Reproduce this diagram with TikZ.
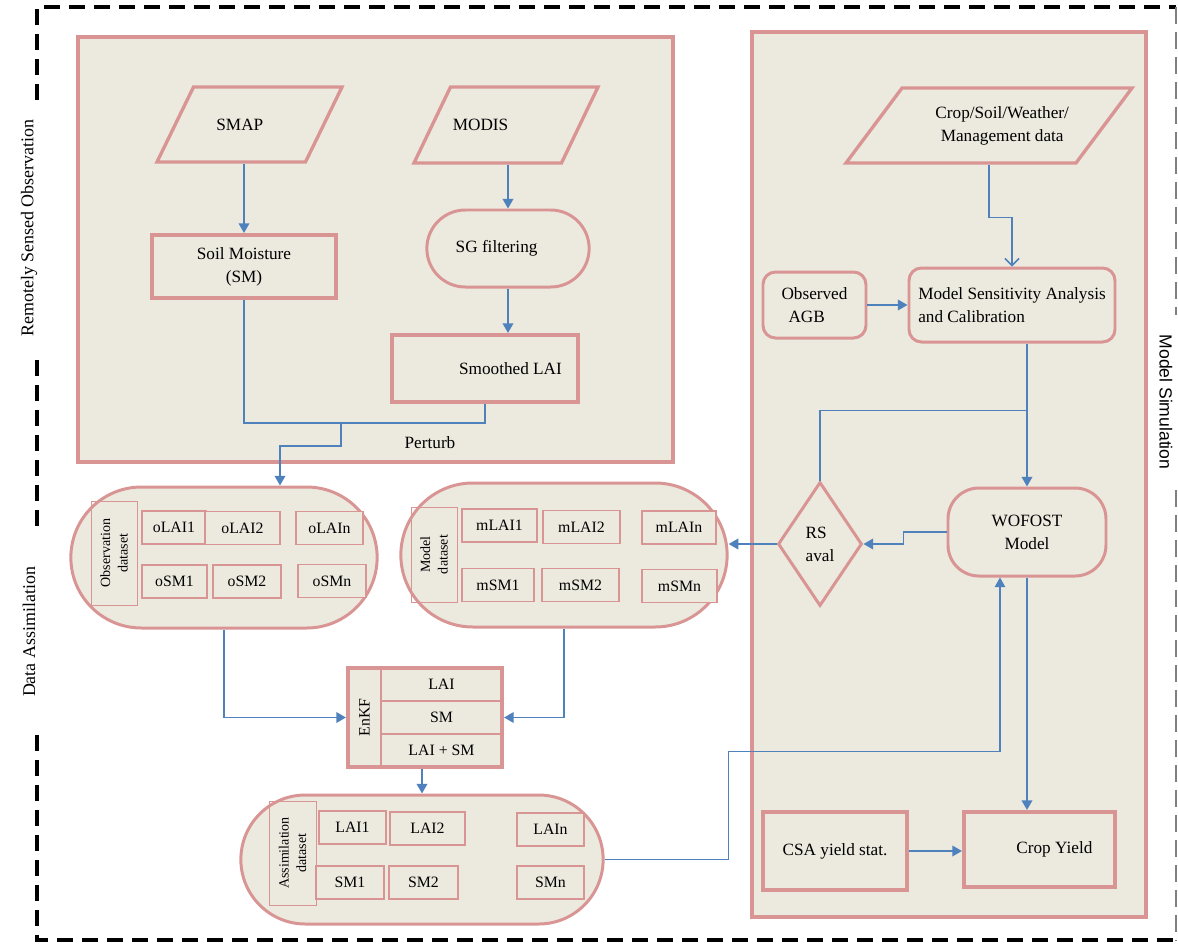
\documentclass[tikz,border=0pt]{standalone}
\usepackage{fontspec}
\setmainfont{Liberation Serif}
\setsansfont{Liberation Sans}
\usetikzlibrary{shapes.geometric,shapes.misc,arrows.meta,calc}
\definecolor{rose}{RGB}{217,149,148}
\definecolor{paper}{RGB}{236,233,223}
\definecolor{flow}{RGB}{79,129,189}
\tikzset{
  wh/.style 2 args={minimum width=#1*0.02cm, minimum height=#2*0.02cm},
  frame/.style={line width=2.3pt, dash pattern=on 0.32cm off 0.18cm},
  panel/.style={draw=rose, line width=2.3pt, fill=paper},
  para/.style={trapezium, trapezium stretches body, draw=rose, line width=1.9pt, fill=paper, inner xsep=0pt},
  boxa/.style={draw=rose, line width=2.3pt, fill=paper},
  pill/.style={rounded rectangle, draw=rose, line width=1.7pt, fill=paper},
  rbox/.style={draw=rose, line width=1.7pt, fill=paper, rounded corners=0.25cm},
  item/.style={draw=rose, line width=1.1pt, fill=paper, font=\fontsize{9}{11}\selectfont},
  row/.style={draw=rose, line width=1.2pt, fill=paper, font=\fontsize{9}{11}\selectfont},
  dslab/.style={draw=rose, line width=0.5pt, rotate=90, align=center, font=\fontsize{8}{10}\selectfont},
  arr/.style={->, draw=flow, line width=1.1pt},
  link/.style={draw=flow, line width=0.7pt}
}
\begin{document}
\begin{tikzpicture}[x=0.02cm, y=-0.02cm, >={Triangle[length=5.5pt,width=6pt]},
  font=\fontsize{9.8}{13.2}\selectfont]
\useasboundingbox (0,0) rectangle (1178,944);

\draw[frame] (37,100) -- (37,7) -- (1176,7);
\draw[frame] (37,360) -- (37,530);
\draw[frame] (37,735) -- (37,940) -- (1176,940);
\draw[gray, line width=0.6pt, dash pattern=on 0.34cm off 0.16cm] (1176,7) -- (1176,315);
\draw[gray, line width=0.6pt, dash pattern=on 0.34cm off 0.16cm] (1176,490) -- (1176,940);
\node[rotate=90, font=\fontsize{10.2}{12}\selectfont] (rslab) at (29,228) {Remotely Sensed Observation};
\node[rotate=90, font=\fontsize{10.2}{12}\selectfont] (dalab) at (29,632) {Data Assimilation};
\node[rotate=-90, font=\sffamily\fontsize{10}{12}\selectfont] (mslab) at (1166,402) {Model Simulation};

\draw[panel] (78,37) rectangle (673,462);
\draw[panel] (752,32) rectangle (1146,917);

\node[para, trapezium left angle=64, trapezium right angle=116, text height=6.6pt, text depth=0pt, inner ysep=18pt, wh={185}{75}] (smap) at (249.5,124.5) {SMAP\hspace*{11pt}};
\node[para, trapezium left angle=64, trapezium right angle=116, text height=6.6pt, text depth=0pt, inner ysep=18pt, wh={184}{76}] (modis) at (506,125) {MODIS\hspace*{29pt}};
\node[para, trapezium left angle=53, trapezium right angle=127, inner ysep=10.1pt, wh={286}{75}, align=center] (crop) at (989,125.5) {\hspace*{15pt}Crop/Soil/Weather/\\\hspace*{15pt}Management data};
\node[boxa, wh={184}{63}, align=center] (sm) at (244,266.5) {Soil Moisture\\(SM)};
\node[pill, wh={174}{77}] (sg) at (508,248.5) {SG filtering\hspace*{13pt}};
\node[boxa, wh={186}{67}] (lai) at (485,368.5) {\hspace*{29pt}Smoothed LAI};
\node (perturb) at (430,443) {Perturb};

\node[pill, wh={318}{141}] (obs) at (224,557.5) {};
\node[dslab, wh={104}{46}] (obslab) at (114,553) {Observation\\dataset};
\foreach \n/\x/\y/\w/\t in {olai1/174/527.5/64/oLAI1, olai2/242.5/528/75/oLAI2, olain/329.5/528/67/oLAIn,
    osm1/174.5/581.5/65/oSM1, osm2/247/581.5/68/oSM2, osmn/332/581/68/oSMn}
  \node[item, wh={\w}{33}] (\n) at (\x,\y) {\t};

\node[pill, wh={338}{144}] (mod) at (564,555) {};
\node[dslab, wh={95}{46}] (modlab) at (434,554.5) {Model\\dataset};
\foreach \n/\x/\y/\w/\t in {mlai1/499.5/525.5/75/mLAI1, mlai2/581.5/527/77/mLAI2, mlain/679/527.5/74/mLAIn,
    msm1/498/585/72/mSM1, msm2/580.5/585/77/mSM2, msmn/679.5/586/75/mSMn}
  \node[item, wh={\w}{33}] (\n) at (\x,\y) {\t};

\node[pill, wh={374}{129}] (asm) at (422,859.5) {};
\node[dslab, wh={104}{47}] (asmlab) at (292.5,853) {Assimilation\\dataset};
\foreach \n/\x/\y/\w/\t in {alai1/352.5/827.5/67/LAI1, alai2/427.5/828.5/75/LAI2, alain/550.5/829.5/67/LAIn,
    asm1/350/882.5/68/SM1, asm2/423.5/882.5/69/SM2, asmn/550.5/882.5/67/SMn}
  \node[item, wh={\w}{33}] (\n) at (\x,\y) {\t};

\foreach \n/\y/\t in {rlai/684.5/LAI, rsm/717.5/SM, rboth/750.5/LAI + SM}
  \node[row, wh={121}{33}] (\n) at (441.5,\y) {\t};
\node[row, rotate=90, wh={99}{33}] (enkflab) at (364.5,717.5) {EnKF};
\node[draw=rose, line width=2.3pt, wh={154}{99}] (enkf) at (425,717.5) {};

\node[rbox, wh={103}{66}, align=left] (agb) at (814.5,305) {Observed\\\hspace*{4pt}AGB};
\node[rbox, wh={206}{74}, align=left] (msa) at (1012,305) {Model Sensitivity Analysis\\and Calibration};
\node[diamond, aspect=0.68, draw=rose, line width=1.7pt, fill=paper, inner sep=0pt, wh={84}{124}, align=left] (rs) at (820,544) {RS\\aval};
\node[draw=rose, line width=1.7pt, fill=paper, rounded corners=0.62cm, wh={158}{88}, align=center] (wofost) at (1027,532) {WOFOST\\Model};
\node[boxa, wh={144}{78}] (csa) at (835,851) {CSA yield stat.};
\node[boxa, wh={151}{75}] (yield) at (1039.5,849.5) {\hspace*{17pt}Crop Yield};

\draw[arr] (smap.south -| sm.north) -- (sm.north);
\draw[arr] (modis.south -| sg.north) -- (sg.north);
\draw[arr] (sg.south) -- (sg.south |- lai.north);
\coordinate (merge) at (341,423);
\draw[link] (sm.south) |- (merge) -| (lai.south);
\draw[arr] (merge) -- ++(0,23) -| ($(obs.north)+(56,0)$);
\draw[arr] (obs.south) |- (enkf.west);
\draw[arr] (mod.south) |- (enkf.east);
\draw[arr] (enkf.south -| asm.north) -- (asm.north);
\draw[link, ->] (asm.east) -| ++(124,-108) -| ($(wofost.south)+(-27,0)$);

\draw[-{Straight Barb[length=4pt,width=8pt]}, draw=flow, line width=0.9pt] (crop.south) -- ++(0,53) -| (msa.north);
\draw[arr] (agb) -- (msa);
\draw[arr] (msa.south -| wofost.north) -- (wofost.north);
\draw[link] (wofost.north) ++(0,-76) -| (rs.north);
\draw[arr] (wofost.west) -- ++(-43,0) |- (rs.east);
\draw[arr] (rs.west) -- (rs.west -| mod.east);
\draw[arr] (wofost.south) -- (wofost.south |- yield.north);
\draw[arr] (csa) -- (csa -| yield.west);

\end{tikzpicture}
\end{document}
